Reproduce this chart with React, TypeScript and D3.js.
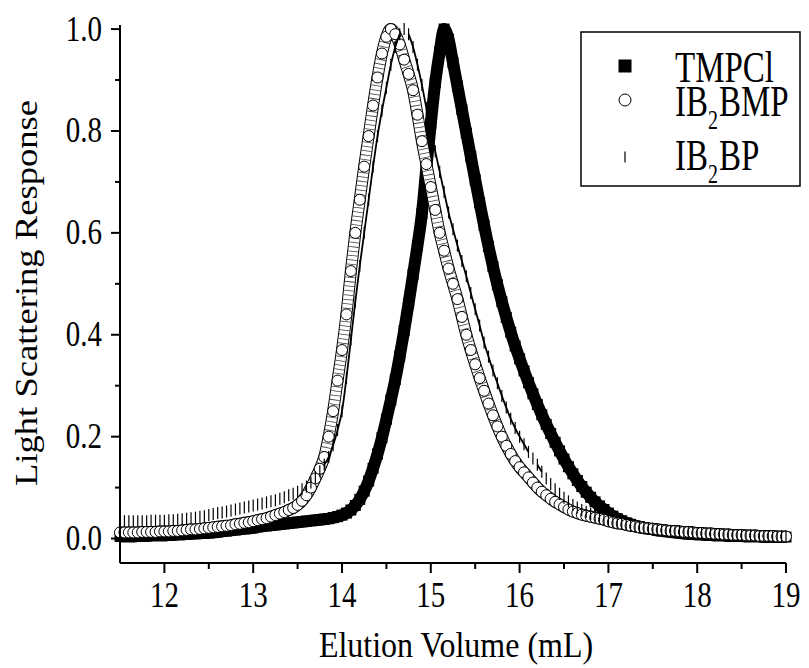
import React from "react";
import * as d3 from "d3";

// Elution volume grid (mL)
const elution = [
  11.50, 11.55, 11.60, 11.65, 11.70, 11.75, 11.80, 11.85, 11.90, 11.95,
  12.00, 12.05, 12.10, 12.15, 12.20, 12.25, 12.30, 12.35, 12.40, 12.45,
  12.50, 12.55, 12.60, 12.65, 12.70, 12.75, 12.80, 12.85, 12.90, 12.95,
  13.00, 13.05, 13.10, 13.15, 13.20, 13.25, 13.30, 13.35, 13.40, 13.45,
  13.50, 13.55, 13.60, 13.65, 13.70, 13.75, 13.80, 13.85, 13.90, 13.95,
  14.00, 14.05, 14.10, 14.15, 14.20, 14.25, 14.30, 14.35, 14.40, 14.45,
  14.50, 14.55, 14.60, 14.65, 14.70, 14.75, 14.80, 14.85, 14.90, 14.95,
  15.00, 15.05, 15.10, 15.15, 15.20, 15.25, 15.30, 15.35, 15.40, 15.45,
  15.50, 15.55, 15.60, 15.65, 15.70, 15.75, 15.80, 15.85, 15.90, 15.95,
  16.00, 16.05, 16.10, 16.15, 16.20, 16.25, 16.30, 16.35, 16.40, 16.45,
  16.50, 16.55, 16.60, 16.65, 16.70, 16.75, 16.80, 16.85, 16.90, 16.95,
  17.00, 17.05, 17.10, 17.15, 17.20, 17.25, 17.30, 17.35, 17.40, 17.45,
  17.50, 17.55, 17.60, 17.65, 17.70, 17.75, 17.80, 17.85, 17.90, 17.95,
  18.00, 18.05, 18.10, 18.15, 18.20, 18.25, 18.30, 18.35, 18.40, 18.45,
  18.50, 18.55, 18.60, 18.65, 18.70, 18.75, 18.80, 18.85, 18.90, 18.95,
  19.00,
];

const tmpcl = [
  0.004, 0.004, 0.004, 0.004, 0.005, 0.005, 0.005, 0.006, 0.006, 0.006,
  0.006, 0.007, 0.007, 0.008, 0.008, 0.009, 0.009, 0.010, 0.010, 0.011,
  0.011, 0.012, 0.013, 0.014, 0.015, 0.016, 0.017, 0.018, 0.019, 0.020,
  0.021, 0.023, 0.024, 0.025, 0.026, 0.027, 0.028, 0.029, 0.030, 0.031,
  0.032, 0.033, 0.034, 0.035, 0.036, 0.037, 0.038, 0.039, 0.041, 0.043,
  0.046, 0.050, 0.056, 0.065, 0.077, 0.093, 0.113, 0.138, 0.166, 0.198,
  0.234, 0.272, 0.312, 0.358, 0.408, 0.462, 0.518, 0.575, 0.638, 0.728,
  0.815, 0.895, 0.955, 1.000, 0.980, 0.934, 0.888, 0.842, 0.796, 0.750,
  0.704, 0.659, 0.615, 0.573, 0.534, 0.498, 0.465, 0.434, 0.405, 0.378,
  0.353, 0.329, 0.306, 0.284, 0.263, 0.243, 0.224, 0.206, 0.189, 0.172,
  0.156, 0.141, 0.127, 0.114, 0.102, 0.091, 0.081, 0.072, 0.064, 0.057,
  0.050, 0.044, 0.039, 0.035, 0.031, 0.028, 0.025, 0.023, 0.021, 0.019,
  0.018, 0.016, 0.015, 0.014, 0.013, 0.012, 0.011, 0.010, 0.009, 0.009,
  0.008, 0.008, 0.007, 0.007, 0.006, 0.006, 0.006, 0.005, 0.005, 0.005,
  0.005, 0.004, 0.004, 0.004, 0.004, 0.003, 0.003, 0.003, 0.003, 0.003,
  0.003,
];

const ib2bmp = [
  0.012, 0.012, 0.012, 0.012, 0.012, 0.013, 0.013, 0.013, 0.013, 0.014,
  0.014, 0.014, 0.015, 0.015, 0.016, 0.017, 0.018, 0.018, 0.019, 0.020,
  0.021, 0.022, 0.023, 0.024, 0.025, 0.026, 0.028, 0.029, 0.031, 0.032,
  0.034, 0.036, 0.038, 0.040, 0.043, 0.046, 0.049, 0.052, 0.056, 0.060,
  0.066, 0.074, 0.085, 0.100, 0.118, 0.137, 0.160, 0.200, 0.250, 0.310,
  0.370, 0.440, 0.525, 0.600, 0.665, 0.730, 0.790, 0.850, 0.905, 0.952,
  0.985, 1.000, 0.990, 0.970, 0.940, 0.912, 0.880, 0.832, 0.780, 0.735,
  0.690, 0.645, 0.600, 0.565, 0.530, 0.500, 0.470, 0.435, 0.400, 0.370,
  0.342, 0.315, 0.290, 0.265, 0.242, 0.220, 0.200, 0.182, 0.166, 0.152,
  0.140, 0.130, 0.120, 0.110, 0.100, 0.092, 0.085, 0.078, 0.072, 0.067,
  0.062, 0.057, 0.053, 0.050, 0.047, 0.045, 0.043, 0.041, 0.039, 0.037,
  0.034, 0.032, 0.030, 0.029, 0.027, 0.025, 0.024, 0.022, 0.021, 0.020,
  0.019, 0.018, 0.017, 0.016, 0.015, 0.015, 0.014, 0.013, 0.013, 0.012,
  0.011, 0.011, 0.010, 0.010, 0.009, 0.009, 0.008, 0.008, 0.007, 0.007,
  0.007, 0.006, 0.006, 0.006, 0.005, 0.005, 0.005, 0.005, 0.004, 0.004,
  0.004,
];

const ib2bp = [
  0.034, 0.034, 0.034, 0.034, 0.034, 0.034, 0.034, 0.035, 0.035, 0.035,
  0.035, 0.036, 0.036, 0.037, 0.038, 0.039, 0.040, 0.041, 0.043, 0.044,
  0.046, 0.048, 0.050, 0.051, 0.053, 0.055, 0.057, 0.059, 0.061, 0.063,
  0.065, 0.067, 0.069, 0.071, 0.073, 0.075, 0.078, 0.081, 0.085, 0.088,
  0.092, 0.097, 0.102, 0.110, 0.120, 0.132, 0.145, 0.160, 0.183, 0.213,
  0.250, 0.315, 0.390, 0.465, 0.535, 0.600, 0.665, 0.730, 0.790, 0.840,
  0.885, 0.930, 0.965, 0.990, 1.000, 0.990, 0.965, 0.930, 0.890, 0.845,
  0.800, 0.760, 0.720, 0.680, 0.640, 0.607, 0.575, 0.545, 0.515, 0.482,
  0.450, 0.418, 0.385, 0.357, 0.330, 0.305, 0.280, 0.257, 0.235, 0.217,
  0.200, 0.185, 0.170, 0.157, 0.145, 0.131, 0.118, 0.107, 0.097, 0.088,
  0.080, 0.073, 0.066, 0.061, 0.056, 0.052, 0.048, 0.044, 0.041, 0.038,
  0.036, 0.034, 0.032, 0.030, 0.028, 0.026, 0.025, 0.023, 0.022, 0.020,
  0.019, 0.018, 0.017, 0.016, 0.015, 0.015, 0.014, 0.013, 0.013, 0.012,
  0.011, 0.011, 0.010, 0.010, 0.009, 0.009, 0.008, 0.008, 0.007, 0.007,
  0.007, 0.006, 0.006, 0.006, 0.005, 0.005, 0.005, 0.005, 0.004, 0.004,
  0.004,
];

const xMajorTicks = [12, 13, 14, 15, 16, 17, 18, 19];
const xMinorTicks = [12.5, 13.5, 14.5, 15.5, 16.5, 17.5, 18.5];
const yMajorTicks = [0, 0.2, 0.4, 0.6, 0.8, 1.0];
const yMinorTicks = [0.1, 0.3, 0.5, 0.7, 0.9];

const xTitle = "Elution Volume (mL)";
const yTitle = "Light Scattering Response";

const W = 809;
const H = 668;
const FONT = '"Liberation Serif", "Times New Roman", Times, serif';

type P = [number, number];

function SText(props: {
  x: number; y: number; size: number; anchor?: string; sy?: number; children: React.ReactNode;
}) {
  const { x, y, size, anchor = "start", sy = 1.25, children } = props;
  return (
    <g transform={`translate(${x},${y}) scale(1,${sy})`}>
      <text fontSize={size} textAnchor={anchor as any} fontFamily={FONT} fill="#000">
        {children}
      </text>
    </g>
  );
}

export default function App() {
  const x = d3.scaleLinear().domain([11.5, 19]).range([120, 786]);
  const y = d3.scaleLinear().domain([-0.048, 1.008]).range([563, 25]);

  const pts = (vals: number[]): P[] => elution.map((e, i) => [e, vals[i]] as P);
  const line = d3
    .line<P>()
    .x((d) => x(d[0]))
    .y((d) => y(d[1]))
    .curve(d3.curveMonotoneX);

  const tm = pts(tmpcl);
  const bm = pts(ib2bmp);
  const bp = pts(ib2bp);

  // steep runs of IB2BP where tick marks would leave gaps
  const runs: P[][] = [];
  let cur: P[] = [];
  for (let i = 0; i < bp.length - 1; i++) {
    const dy = Math.abs(y(bp[i + 1][1]) - y(bp[i][1]));
    if (dy > 7) {
      if (cur.length === 0) cur.push(bp[i]);
      cur.push(bp[i + 1]);
    } else if (cur.length) {
      runs.push(cur);
      cur = [];
    }
  }
  if (cur.length) runs.push(cur);

  const sq = 11;
  const tickLen = 12;
  const cr = 5.5;
  const bmPath = line(bm) || "";

  return (
    <svg
      width={W}
      height={H}
      viewBox={`0 0 ${W} ${H}`}
      style={{ position: "absolute", left: 0, top: 0, background: "#fff" }}
      fontFamily={FONT}
    >
      <rect x={0} y={0} width={W} height={H} fill="#fff" />

      {/* TMPCl: filled squares */}
      <path d={line(tm) || ""} fill="none" stroke="#000" strokeWidth={12} strokeLinejoin="round" />
      {tm.map((d, i) => (
        <rect key={"s" + i} x={x(d[0]) - sq / 2} y={y(d[1]) - sq / 2} width={sq} height={sq} fill="#000" />
      ))}

      {/* IB2BMP: open circles */}
      <path d={bmPath} fill="none" stroke="#000" strokeWidth={2 * cr + 1} strokeLinejoin="round" />
      <path d={bmPath} fill="none" stroke="#fff" strokeWidth={2 * cr - 1} strokeLinejoin="round" />
      <path
        d={bmPath}
        fill="none"
        stroke="#000"
        strokeOpacity={0.75}
        strokeWidth={2 * cr - 1}
        strokeDasharray="0.8 3.6"
      />
      {bm.map((d, i) => (
        <circle key={"c" + i} cx={x(d[0])} cy={y(d[1])} r={cr} fill="#fff" stroke="#000" strokeWidth={1} />
      ))}

      {/* IB2BP: vertical bars */}
      {runs.map((r, i) => (
        <path key={"r" + i} d={line(r) || ""} fill="none" stroke="#000" strokeWidth={1.8} />
      ))}
      {bp.map((d, i) => (
        <line
          key={"t" + i}
          x1={x(d[0])}
          x2={x(d[0])}
          y1={y(d[1]) - tickLen / 2}
          y2={y(d[1]) + tickLen / 2}
          stroke="#000"
          strokeWidth={1.2}
        />
      ))}

      {/* axes */}
      <line x1={x(11.5)} x2={x(11.5)} y1={y(1.008)} y2={y(-0.048)} stroke="#000" strokeWidth={2} />
      <line x1={x(11.5)} x2={x(19)} y1={y(-0.048)} y2={y(-0.048)} stroke="#000" strokeWidth={2} />
      {yMajorTicks.map((v) => (
        <line key={"ym" + v} x1={x(11.5) - 9} x2={x(11.5)} y1={y(v)} y2={y(v)} stroke="#000" strokeWidth={2} />
      ))}
      {yMinorTicks.map((v) => (
        <line key={"yn" + v} x1={x(11.5) - 5} x2={x(11.5)} y1={y(v)} y2={y(v)} stroke="#000" strokeWidth={2} />
      ))}
      {xMajorTicks.map((v) => (
        <line key={"xm" + v} x1={x(v)} x2={x(v)} y1={y(-0.048)} y2={y(-0.048) + 10} stroke="#000" strokeWidth={2} />
      ))}
      {xMinorTicks.map((v) => (
        <line key={"xn" + v} x1={x(v)} x2={x(v)} y1={y(-0.048)} y2={y(-0.048) + 6} stroke="#000" strokeWidth={2} />
      ))}

      {yMajorTicks.map((v) => (
        <SText key={"yl" + v} x={102} y={y(v) + 11.5} size={29} anchor="end">
          {v.toFixed(1)}
        </SText>
      ))}
      {xMajorTicks.map((v) => (
        <SText key={"xl" + v} x={x(v)} y={607} size={29} anchor="middle">
          {String(v)}
        </SText>
      ))}

      {/* titles */}
      <SText x={456} y={657} size={32} anchor="middle" sy={1.15}>
        {xTitle}
      </SText>
      <g transform={`translate(37,293) rotate(-90) scale(1.18,1)`}>
        <text fontSize={31} textAnchor="middle" fontFamily={FONT} fill="#000">
          {yTitle}
        </text>
      </g>

      {/* legend */}
      <rect x={581} y={32} width={219} height={154} fill="#fff" stroke="#000" strokeWidth={1.5} />
      <rect x={625 - 6.5} y={66 - 6.5} width={13} height={13} fill="#000" />
      <circle cx={625} cy={100} r={6} fill="#fff" stroke="#000" strokeWidth={1} />
      <line x1={625} x2={625} y1={151.5} y2={162.5} stroke="#000" strokeWidth={1.2} />
      <SText x={675} y={82} size={33} sy={1.34}>
        TMPCl
      </SText>
      <SText x={675} y={116} size={33} sy={1.34}>
        IB<tspan fontSize={20} dy={10}>2</tspan>
        <tspan dy={-10} dx={1}>BMP</tspan>
      </SText>
      <SText x={675} y={170} size={33} sy={1.34}>
        IB<tspan fontSize={20} dy={10}>2</tspan>
        <tspan dy={-10} dx={1}>BP</tspan>
      </SText>
    </svg>
  );
}
